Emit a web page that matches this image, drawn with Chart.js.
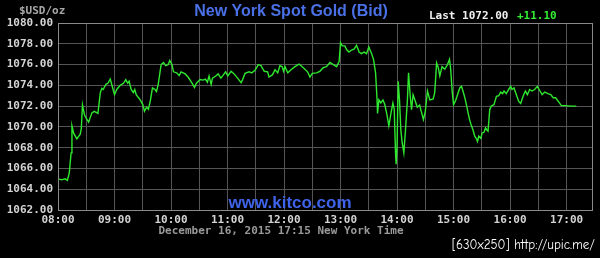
<!DOCTYPE html>
<html>
<head>
<meta charset="utf-8">
<script src="https://cdn.jsdelivr.net/npm/chart.js@4"></script>
<style>
  html, body { margin: 0; padding: 0; background: #000; }
  #wrap { width: 600px; height: 258px; }
</style>
</head>
<body>
<div id="wrap"><canvas id="goldChart"></canvas></div>
<script>
// minutes after 08:00 New York time
const minutes = [
  0, 4, 7.5, 10, 12, 13.9, 14.8, 16.6, 20, 23.6, 24.7, 26, 28, 29.5, 32.5, 36, 38.5, 42.4, 44.9, 46.6,
  48, 50.9, 53, 55.5, 57, 60, 62.4, 66, 69.5, 72, 74, 75.5, 77.7, 80, 81.5, 83, 87.3, 90, 91.8, 94,
  96, 98, 100.3, 103, 104.6, 106.4, 109.5, 112, 114.5, 117, 118.7, 121, 122.6, 126, 128.6, 130.7, 135, 138.5, 142, 144.9,
  147, 150.9, 154, 156.5, 158.6, 160.4, 162.6, 164, 167.5, 170, 173, 175.6, 178, 180.3, 183.8, 187, 191.5, 194.4, 196, 198.6,
  202.9, 205.7, 209.2, 212.7, 215.5, 219, 222.6, 224, 227.6, 230.5, 233.3, 235.7, 238, 239.5, 241, 243.9, 247.4, 251.6, 255.9, 260.5,
  265, 267.5, 270, 274.6, 278, 281.7, 285, 288.8, 292.3, 295.9, 298.5, 300, 301.8, 304.6, 306.4, 308.9, 311.7, 314.6, 317, 319.7,
  322.2, 325, 327.6, 330, 332.8, 335, 337.2, 338.6, 339.3, 340.7, 342.8, 345, 347, 349.2, 351.3, 353.5, 355.6, 357, 358.4, 359,
  360, 361.2, 362.6, 364, 365.4, 367.2, 369, 371, 372.2, 374, 375.4, 377, 379.3, 381.5, 384, 385.7, 388, 390, 392.3, 394.8,
  398.4, 400, 402, 403.8, 405.4, 407.8, 410.7, 413.6, 415.7, 417, 418.5, 420, 422, 424.2, 426.6, 428.4, 430, 432, 434, 435.4,
  437, 439, 441, 442.5, 444.3, 445.4, 446.8, 449, 450.3, 452.5, 453.9, 455, 456.6, 458.4, 460, 463, 465.5, 468, 470, 472,
  473.6, 476, 478.5, 480.7, 482, 484.2, 486.7, 489.2, 491.3, 493.8, 496.3, 498.4, 500.8, 503.3, 506.1, 509, 511.5, 514, 516.8, 520.3,
  523.2, 525.8, 528.3, 531.6, 534.5, 538.8, 544.1, 550.3
];
const prices = [
  1065.0, 1064.9, 1065.0, 1064.85, 1065.6, 1067.5, 1070.1, 1069.4, 1068.85, 1069.3, 1069.8, 1072.1, 1071.2, 1070.9, 1070.45, 1071.35, 1071.5, 1071.3, 1073.3, 1073.7,
  1073.6, 1074.1, 1074.2, 1074.6, 1074.1, 1073.1, 1073.6, 1074.0, 1074.2, 1074.55, 1074.2, 1074.4, 1073.6, 1073.3, 1073.6, 1073.1, 1072.6, 1072.15, 1071.5, 1071.9,
  1071.7, 1072.5, 1073.75, 1073.6, 1073.4, 1074.1, 1076.0, 1076.2, 1075.9, 1076.0, 1076.4, 1076.0, 1075.3, 1075.2, 1074.95, 1075.3, 1075.1, 1074.75, 1074.25, 1073.8,
  1074.2, 1074.55, 1074.5, 1074.6, 1074.3, 1074.9, 1074.1, 1074.7, 1074.9, 1075.1, 1074.7, 1075.0, 1075.3, 1074.9, 1075.35, 1075.1, 1074.6, 1074.25, 1074.55, 1075.15,
  1075.3, 1075.2, 1075.45, 1076.0, 1075.9, 1075.35, 1075.3, 1074.8, 1075.0, 1075.5, 1075.2, 1075.9, 1075.8, 1075.35, 1075.8, 1075.2, 1075.5, 1075.8, 1076.05, 1075.7,
  1075.3, 1074.8, 1075.15, 1075.2, 1075.35, 1075.7, 1075.8, 1076.2, 1076.0, 1075.8, 1076.3, 1078.1, 1077.8, 1077.8, 1077.45, 1077.2, 1077.4, 1077.5, 1077.85, 1077.2,
  1077.05, 1077.2, 1077.05, 1077.7, 1077.1, 1076.5, 1075.2, 1072.95, 1071.3, 1072.6, 1072.3, 1072.6, 1072.15, 1071.2, 1070.1, 1071.3, 1072.3, 1071.7, 1067.5, 1066.4,
  1068.1, 1074.4, 1072.6, 1069.75, 1068.5, 1067.5, 1069.75, 1072.6, 1075.2, 1072.95, 1071.65, 1073.1, 1072.5, 1071.9, 1072.1, 1071.5, 1070.7, 1071.5, 1073.45, 1072.6,
  1072.7, 1073.3, 1076.15, 1075.7, 1074.9, 1075.8, 1075.55, 1076.0, 1076.5, 1075.5, 1073.45, 1072.15, 1072.5, 1073.1, 1073.75, 1073.9, 1073.45, 1072.8, 1072.0, 1071.35,
  1070.7, 1070.1, 1069.6, 1069.1, 1068.85, 1068.6, 1069.1, 1068.9, 1069.4, 1069.5, 1069.9, 1069.75, 1069.6, 1071.65, 1072.0, 1072.15, 1072.95, 1073.0, 1073.35, 1073.2,
  1073.45, 1073.2, 1073.6, 1073.9, 1073.6, 1073.75, 1073.1, 1072.45, 1072.25, 1072.95, 1073.45, 1073.1, 1073.6, 1073.45, 1073.6, 1073.9, 1073.5, 1073.1, 1073.35, 1073.2,
  1073.1, 1072.8, 1072.8, 1072.4, 1072.05, 1072.05, 1072.0, 1072.0
];
const hourLabels = ["08:00", "09:00", "10:00", "11:00", "12:00", "13:00", "14:00", "15:00", "16:00", "17:00"];
const priceTicks = [1062, 1064, 1066, 1068, 1070, 1072, 1074, 1076, 1078, 1080];

const mono = "'DejaVu Sans Mono', 'Liberation Mono', monospace";

const kitcoText = {
  id: "kitcoText",
  beforeDraw(chart) {
    const ctx = chart.ctx;
    ctx.save();
    ctx.fillStyle = "#000";
    ctx.fillRect(0, 0, chart.width, chart.height);
    ctx.restore();
  },
  afterDraw(chart) {
    const ctx = chart.ctx;
    const a = chart.chartArea;
    ctx.save();
    ctx.strokeStyle = "#8a8a8a";
    ctx.lineWidth = 1;
    ctx.strokeRect(Math.round(a.left) + 0.5, Math.round(a.top) + 0.5, Math.round(a.right - a.left), Math.round(a.bottom - a.top));

    ctx.textBaseline = "middle";
    ctx.textAlign = "left";
    ctx.font = "bold 11px " + mono;
    ctx.fillStyle = "#a8a8a8";
    ctx.fillText("$USD/oz", 19, 11);

    ctx.textAlign = "center";
    ctx.font = "bold 16px 'Liberation Sans', Arial, sans-serif";
    ctx.fillStyle = "#4a70e6";
    ctx.fillText("New York Spot Gold (Bid)", 291, 12);

    ctx.textAlign = "left";
    ctx.font = "bold 11px " + mono;
    ctx.fillStyle = "#f0f0f0";
    ctx.fillText("Last 1072.00", 429, 16);
    ctx.fillStyle = "#33ee33";
    ctx.fillText("+11.10", 517, 16);

    ctx.textAlign = "center";
    ctx.font = "bold 17px 'Liberation Sans', Arial, sans-serif";
    ctx.fillStyle = "#3f63e8";
    ctx.fillText("www.kitco.com", 290, 203);

    ctx.font = "bold 11px " + mono;
    ctx.fillStyle = "#9a9a9a";
    ctx.fillText("December 16, 2015 17:15 New York Time", 281, 231);

    ctx.textAlign = "right";
    ctx.font = "13px 'Comic Neue', 'DejaVu Sans', sans-serif";
    ctx.fillStyle = "#ffffff";
    ctx.fillText("[630x250] http://upic.me/", 595, 245);
    ctx.restore();
  }
};

new Chart("goldChart", {
  type: "line",
  data: {
    datasets: [
      {
        label: "Gold",
        data: minutes.map((m, i) => ({ x: m, y: prices[i] })),
        borderColor: "#2ee82e",
        borderWidth: 1.4,
        pointRadius: 0,
        tension: 0,
        fill: false,
      },
    ],
  },
  options: {
    responsive: true,
    maintainAspectRatio: false,
    animation: false,
    layout: {
      padding: { top: 23, right: 8, left: 0, bottom: 0 },
    },
    plugins: {
      legend: { display: false },
      tooltip: { enabled: false },
    },
    scales: {
      x: {
        type: "linear",
        min: 0,
        max: 567,
        afterFit(scale) { scale.height = 48; },
        grid: { color: "#555", drawTicks: false },
        border: { display: false },
        ticks: {
          stepSize: 30,
          includeBounds: false,
          autoSkip: false,
          maxRotation: 0,
          padding: 4,
          color: "#d4d4d4",
          font: { family: mono, size: 11, weight: "bold" },
          callback: (v) => (v % 60 === 0 ? hourLabels[v / 60] : ""),
        },
      },
      y: {
        min: priceTicks[0],
        max: priceTicks[priceTicks.length - 1],
        afterFit(scale) { scale.width = 58; },
        grid: { color: "#555", drawTicks: false },
        border: { display: false },
        ticks: {
          stepSize: 2,
          padding: 5,
          color: "#d4d4d4",
          font: { family: mono, size: 11, weight: "bold" },
          callback: (v) => v.toFixed(2),
        },
      },
    },
  },
  plugins: [kitcoText],
});
</script>
</body>
</html>
